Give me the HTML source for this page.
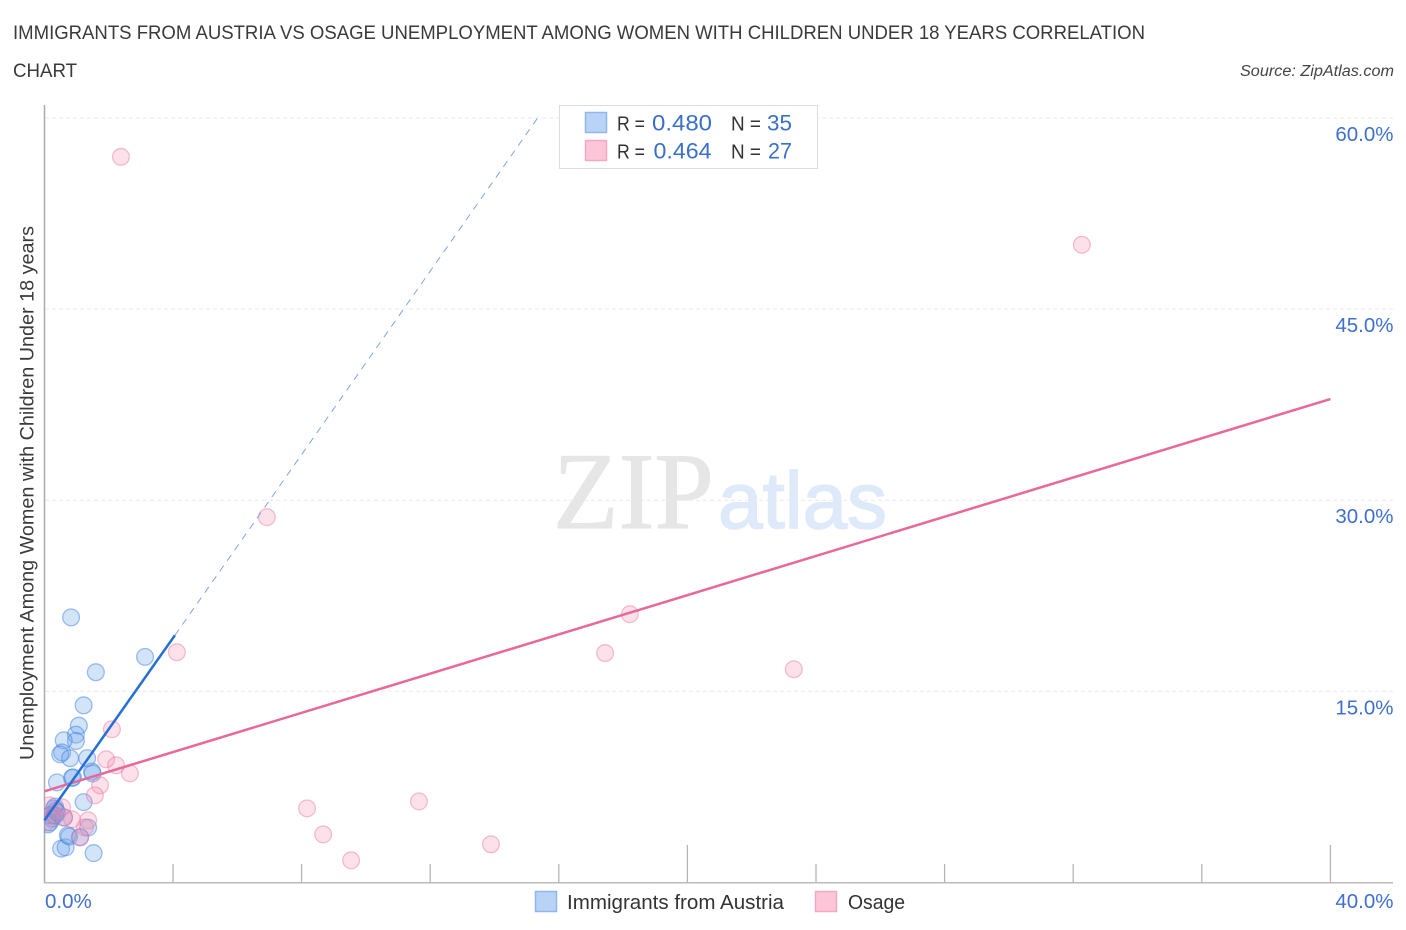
<!DOCTYPE html>
<html lang="en">
<head>
<meta charset="utf-8">
<title>Immigrants from Austria vs Osage Unemployment Correlation Chart</title>
<style>
html,body{margin:0;padding:0;background:#fff;}
svg{display:block;font-family:"Liberation Sans",sans-serif;}
</style>
</head>
<body>
<svg id="chart" xmlns="http://www.w3.org/2000/svg" width="1406" height="930" viewBox="0 0 1406 930">
  <defs>
    <clipPath id="plot-clip"><rect x="44" y="100" width="1350" height="783"/></clipPath>
  </defs>
  <rect x="0" y="0" width="1406" height="930" fill="#ffffff"/>

  <text x="13" y="39" font-size="19.5" fill="#3a3a3a" textLength="1132" lengthAdjust="spacingAndGlyphs">IMMIGRANTS FROM AUSTRIA VS OSAGE UNEMPLOYMENT AMONG WOMEN WITH CHILDREN UNDER 18 YEARS CORRELATION</text>
  <text x="13" y="77" font-size="19.5" fill="#3a3a3a" textLength="64" lengthAdjust="spacingAndGlyphs">CHART</text>
  <text x="1394" y="76" font-size="15.5" font-style="italic" fill="#444444" text-anchor="end" textLength="154" lengthAdjust="spacingAndGlyphs">Source: ZipAtlas.com</text>

  <g>
    <text x="553" y="528" font-family="'Liberation Serif',serif" font-size="109" fill="#e6e6e6" stroke="#e6e6e6" stroke-width="1" textLength="161" lengthAdjust="spacingAndGlyphs">ZIP</text>
    <text x="718" y="528" font-family="'Liberation Sans',sans-serif" font-size="80" fill="#deE9f9" stroke="#deE9f9" stroke-width="1.5" textLength="169" lengthAdjust="spacingAndGlyphs">atlas</text>
  </g>

  <g id="grid"></g>
  <g id="axes"></g>
  <g id="points-blue" clip-path="url(#plot-clip)"></g>
  <g id="points-pink" clip-path="url(#plot-clip)"></g>
  <g id="trends"></g>
  <g id="labels"></g>

  <text transform="translate(33.5,493) rotate(-90)" font-size="19" fill="#3a3a3a" text-anchor="middle" textLength="534" lengthAdjust="spacingAndGlyphs">Unemployment Among Women with Children Under 18 years</text>

  <g font-size="21">
    <rect x="559.5" y="105.5" width="258" height="63" fill="#ffffff" stroke="#dddddd" stroke-width="1"/>
    <rect x="585.5" y="112.5" width="21" height="20" fill="#b9d3f6" stroke="#8fb6ee" stroke-width="1.5"/>
    <text x="617" y="130.5" fill="#333333" font-size="20" textLength="28" lengthAdjust="spacingAndGlyphs">R =</text>
    <text x="652" y="130.5" fill="#3a70c9" font-size="22" textLength="60" lengthAdjust="spacingAndGlyphs">0.480</text>
    <text x="731" y="130.5" fill="#333333" font-size="20" textLength="30" lengthAdjust="spacingAndGlyphs">N =</text>
    <text x="767" y="130.5" fill="#3a70c9" font-size="22" textLength="25" lengthAdjust="spacingAndGlyphs">35</text>
    <rect x="585.5" y="140.5" width="21" height="20" fill="#fcc6d8" stroke="#f4a9c1" stroke-width="1.5"/>
    <text x="617" y="158.5" fill="#333333" font-size="20" textLength="28" lengthAdjust="spacingAndGlyphs">R =</text>
    <text x="653.5" y="158.5" fill="#3a70c9" font-size="22" textLength="58" lengthAdjust="spacingAndGlyphs">0.464</text>
    <text x="731" y="158.5" fill="#333333" font-size="20" textLength="30" lengthAdjust="spacingAndGlyphs">N =</text>
    <text x="768" y="158.5" fill="#3a70c9" font-size="22" textLength="24" lengthAdjust="spacingAndGlyphs">27</text>
  </g>

  <g>
    <rect x="535.5" y="891.5" width="21" height="20" fill="#b9d3f6" stroke="#8fb6ee" stroke-width="1.5"/>
    <text x="567" y="909" font-size="20" fill="#333333" textLength="217" lengthAdjust="spacingAndGlyphs">Immigrants from Austria</text>
    <rect x="815.5" y="891.5" width="21" height="20" fill="#fcc6d8" stroke="#f4a9c1" stroke-width="1.5"/>
    <text x="848" y="909" font-size="20" fill="#333333" textLength="57" lengthAdjust="spacingAndGlyphs">Osage</text>
  </g>
</svg>

<script>
const yTickValues = [15, 30, 45, 60];
const yTickLabels = ["15.0%", "30.0%", "45.0%", "60.0%"];
const xTickValues = [4, 8, 12, 16, 20, 24, 28, 32, 36, 40];
const xMajorTicks = [20, 40];
const xEndValues = [0, 40];
const xEndLabels = ["0.0%", "40.0%"];

const austriaX = [0.83, 3.13, 1.60, 1.22, 1.07, 0.98, 0.98, 0.60, 0.55, 0.49, 0.80, 1.33, 0.39, 0.89, 0.86, 1.48, 1.50, 1.22, 1.53, 0.52, 0.66, 0.73, 0.77, 1.36, 1.11, 0.33, 0.30, 0.36, 0.17, 0.61, 0.24, 0.11, 0.17, 0.33, 0.39];
const austriaY = [20.8, 17.7, 16.5, 13.9, 12.3, 11.6, 11.1, 11.15, 10.2, 10.05, 9.75, 9.75, 7.85, 8.25, 8.2, 8.7, 8.55, 6.3, 2.3, 2.65, 2.75, 3.7, 3.6, 4.3, 3.55, 5.95, 5.8, 5.65, 5.25, 5.1, 5.0, 4.55, 4.7, 5.25, 5.5];
const osageX = [2.38, 32.27, 6.92, 18.21, 4.12, 17.44, 23.31, 2.10, 1.92, 2.23, 2.66, 1.73, 1.57, 11.65, 8.17, 8.67, 9.54, 13.89, 1.11, 1.36, 1.26, 0.86, 0.55, 0.14, 0.61, 0.24, 0.05];
const osageY = [56.95, 50.05, 28.67, 21.05, 18.07, 18.0, 16.73, 12.02, 9.66, 9.19, 8.56, 7.62, 6.83, 6.36, 5.81, 3.77, 1.73, 2.99, 3.54, 4.87, 4.32, 4.95, 5.89, 6.05, 5.1, 5.26, 4.71];

const austriaTrendX = [0, 4.06];
const austriaTrendY = [4.87, 19.4];
const austriaDashedX = [4.06, 15.41];
const austriaDashedY = [19.4, 60.25];
const osageTrendX = [0, 40];
const osageTrendY = [7.15, 37.94];

const NS = "http://www.w3.org/2000/svg";
function sx(v) { return 44.4 + v * 32.15; }
function sy(v) { return 882.4 - v * 12.74; }
function make(tag, attrs, parent) {
  const el = document.createElementNS(NS, tag);
  for (const k in attrs) el.setAttribute(k, attrs[k]);
  parent.appendChild(el);
  return el;
}

const grid = document.getElementById("grid");
yTickValues.forEach(function (v) {
  const ln = make("line", { x1: 45, x2: 1393, y1: sy(v), y2: sy(v), stroke: "#e9e9e9", "stroke-width": 1, "stroke-dasharray": "4 3" }, grid);
  
  
});

const axes = document.getElementById("axes");
const yAxis = make("line", { x1: 44.5, x2: 44.5, y1: 105, y2: 883.5, stroke: "#aaaaaa", "stroke-width": 1.5 }, axes);


const xAxis = make("line", { x1: 44, x2: 1393, y1: 882.7, y2: 882.7, stroke: "#bbbbbb", "stroke-width": 1.5 }, axes);


xTickValues.forEach(function (v) {
  const top = xMajorTicks.indexOf(v) >= 0 ? 845 : 864;
  const t = make("line", { x1: sx(v), x2: sx(v), y1: top, y2: 883, stroke: "#b5b5b5", "stroke-width": 1.3 }, axes);
  
  
});

function drawPoints(xs, ys, groupId, fill, stroke, name) {
  const g = document.getElementById(groupId);
  xs.forEach(function (x, i) {
    const c = make("circle", { cx: sx(x), cy: sy(ys[i]), r: 8.4, fill: fill, stroke: stroke, "stroke-width": 1.3 }, g);
    
    
  });
}
drawPoints(austriaX, austriaY, "points-blue", "rgba(110,165,235,0.3)", "rgba(60,125,220,0.48)", "austria-point");
drawPoints(osageX, osageY, "points-pink", "rgba(245,135,170,0.25)", "rgba(232,110,155,0.42)", "osage-point");

const trends = document.getElementById("trends");
const dashed = make("line", { x1: sx(austriaDashedX[0]), y1: sy(austriaDashedY[0]), x2: sx(austriaDashedX[1]), y2: sy(austriaDashedY[1]), stroke: "#7fa6e0", "stroke-width": 1, "stroke-dasharray": "7 6" }, trends);


const pinkLine = make("line", { x1: sx(osageTrendX[0]), y1: sy(osageTrendY[0]), x2: sx(osageTrendX[1]), y2: sy(osageTrendY[1]), stroke: "#e8689a", "stroke-width": 2.5 }, trends);


const blueLine = make("line", { x1: sx(austriaTrendX[0]), y1: sy(austriaTrendY[0]), x2: sx(austriaTrendX[1]), y2: sy(austriaTrendY[1]), stroke: "#2470d3", "stroke-width": 2.5 }, trends);



const labels = document.getElementById("labels");
yTickValues.forEach(function (v, i) {
  const t = make("text", { x: 1393.5, y: sy(v) + 23, "font-size": 20.5, fill: "#3f70cf", "text-anchor": "end" }, labels);
  t.textContent = yTickLabels[i];
  
  
});
xEndValues.forEach(function (v, i) {
  const t = make("text", { x: i === 0 ? 45 : 1393.5, y: 908, "font-size": 20.5, fill: "#3f70cf", "text-anchor": i === 0 ? "start" : "end" }, labels);
  t.textContent = xEndLabels[i];
  
  
});
</script>
</body>
</html>
